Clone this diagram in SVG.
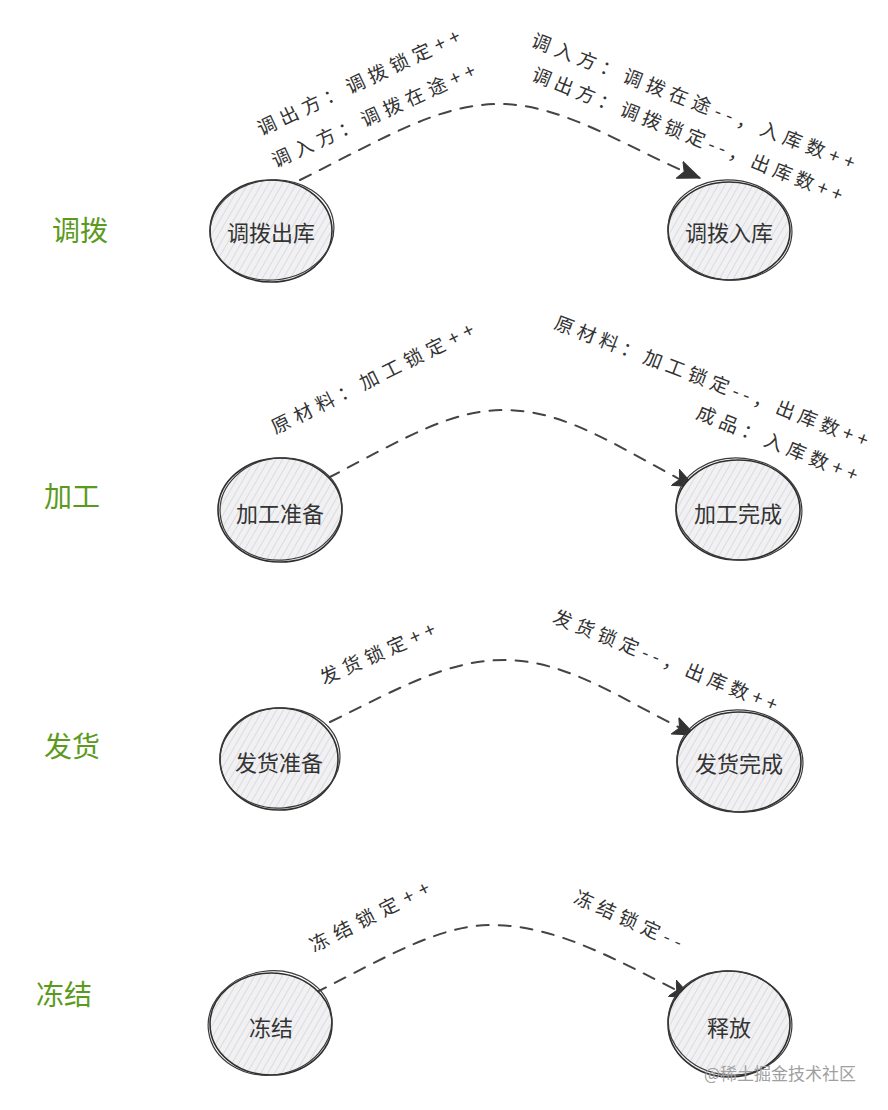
<svg xmlns="http://www.w3.org/2000/svg" width="888" height="1110" viewBox="0 0 888 1110">
<style>
.sec{font-family:"Noto Sans CJK SC","Noto Sans",sans-serif;font-size:28px;fill:#5b9a1c;text-anchor:middle;dominant-baseline:central}
.nt{font-family:"Noto Sans CJK SC","Noto Sans",sans-serif;font-size:22px;fill:#333;text-anchor:middle;dominant-baseline:central}
.lb{font-family:"Noto Sans CJK SC","Noto Sans",sans-serif;font-size:19px;fill:#333;text-anchor:middle;dominant-baseline:central}
.c1{fill:url(#hatch);stroke:#2e2e2e;stroke-width:1.6}
.c2{fill:none;stroke:#3a3a3a;stroke-width:1.2}
.edge{fill:none;stroke:#444;stroke-width:2;stroke-dasharray:12 10;stroke-linecap:round}
.wm{font-family:"Noto Sans CJK SC","Noto Sans",sans-serif;font-size:17px;fill:#a0a0a0;text-anchor:middle;dominant-baseline:central}
</style>
<defs>
<pattern id="hatch" patternUnits="userSpaceOnUse" width="6" height="6" patternTransform="rotate(30)">
<rect width="6" height="6" fill="#f1f1f3"/>
<line x1="0" y1="0" x2="0" y2="6" stroke="#d2d2d6" stroke-width="1.4"/>
</pattern>
<marker id="arr" markerUnits="userSpaceOnUse" markerWidth="26" markerHeight="22" refX="22" refY="11" orient="auto">
<path d="M0,2 L22,11 L0,20 L5,11 Z" fill="#333" stroke="#333" stroke-width="1"/>
</marker>
</defs>
<rect width="888" height="1110" fill="#fff"/>

<text class="sec" x="80" y="229">调拨</text>
<text class="sec" x="72" y="495">加工</text>
<text class="sec" x="72" y="745">发货</text>
<text class="sec" x="64" y="993">冻结</text>

<g id="connectors">
<path class="edge" d="M300,180 C390,135 440,104 500,104 C565,104 630,150 700,178" marker-end="url(#arr)"/>
<path class="edge" d="M328,478 C405,438 450,410 505,410 C570,410 630,455 695,487" marker-end="url(#arr)"/>
<path class="edge" d="M330,722 C405,685 450,660 505,660 C570,660 630,705 695,735" marker-end="url(#arr)"/>
<path class="edge" d="M315,993 C390,955 440,925 492,925 C560,925 625,965 692,998" marker-end="url(#arr)"/>
</g>

<g id="n-diaobo-out">
<ellipse class="c1" cx="271" cy="231" rx="61" ry="51"/>
<ellipse class="c2" cx="272" cy="230" rx="62" ry="50" transform="rotate(-6 272 230)"/>
<text class="nt" x="271" y="231">调拨出库</text>
</g>
<g id="n-diaobo-in">
<ellipse class="c1" cx="729" cy="231" rx="61" ry="49"/>
<ellipse class="c2" cx="730" cy="230" rx="62" ry="50" transform="rotate(5 730 230)"/>
<text class="nt" x="729" y="231">调拨入库</text>
</g>
<g id="n-jiagong-prep">
<ellipse class="c1" cx="280" cy="510" rx="62" ry="52"/>
<ellipse class="c2" cx="281" cy="509" rx="61" ry="51" transform="rotate(-5 281 509)"/>
<text class="nt" x="280" y="512">加工准备</text>
</g>
<g id="n-jiagong-done">
<ellipse class="c1" cx="738" cy="510" rx="62" ry="50"/>
<ellipse class="c2" cx="739" cy="509" rx="63" ry="51" transform="rotate(6 739 509)"/>
<text class="nt" x="738" y="512">加工完成</text>
</g>
<g id="n-fahuo-prep">
<ellipse class="c1" cx="279" cy="759" rx="59" ry="51"/>
<ellipse class="c2" cx="280" cy="758" rx="60" ry="50" transform="rotate(-5 280 758)"/>
<text class="nt" x="279" y="761">发货准备</text>
</g>
<g id="n-fahuo-done">
<ellipse class="c1" cx="739" cy="762" rx="62" ry="50"/>
<ellipse class="c2" cx="740" cy="761" rx="63" ry="51" transform="rotate(5 740 761)"/>
<text class="nt" x="739" y="762">发货完成</text>
</g>
<g id="n-dongjie">
<ellipse class="c1" cx="271" cy="1024" rx="61" ry="51"/>
<ellipse class="c2" cx="270" cy="1023" rx="62" ry="52" transform="rotate(-8 270 1023)"/>
<text class="nt" x="271" y="1026">冻结</text>
</g>
<g id="n-shifang">
<ellipse class="c1" cx="729" cy="1024" rx="61" ry="53"/>
<ellipse class="c2" cx="730" cy="1023" rx="62" ry="52" transform="rotate(7 730 1023)"/>
<text class="nt" x="729" y="1026">释放</text>
</g>

<g id="labels">
<text class="lb" transform="translate(358,81) rotate(-25.3)" textLength="222" lengthAdjust="spacing">调出方：调拨锁定++</text>
<text class="lb" transform="translate(373,114) rotate(-24.6)" textLength="222" lengthAdjust="spacing">调入方：调拨在途++</text>
<text class="lb" transform="translate(694,100) rotate(21.1)" textLength="345" lengthAdjust="spacing">调入方：调拨在途--，入库数++</text>
<text class="lb" transform="translate(688,133) rotate(21.6)" textLength="332" lengthAdjust="spacing">调出方：调拨锁定--，出库数++</text>

<text class="lb" transform="translate(372,377) rotate(-26.5)" textLength="224" lengthAdjust="spacing">原材料：加工锁定++</text>
<text class="lb" transform="translate(712,380) rotate(20.9)" textLength="334" lengthAdjust="spacing">原材料：加工锁定--，出库数++</text>
<text class="lb" transform="translate(778,442) rotate(22)" textLength="172" lengthAdjust="spacing">成品：入库数++</text>

<text class="lb" transform="translate(377,652) rotate(-24)" textLength="124" lengthAdjust="spacing">发货锁定++</text>
<text class="lb" transform="translate(666,659) rotate(22)" textLength="240" lengthAdjust="spacing">发货锁定--，出库数++</text>

<text class="lb" transform="translate(369,915) rotate(-27)" textLength="132" lengthAdjust="spacing">冻结锁定++</text>
<text class="lb" transform="translate(629,918) rotate(24)" textLength="116" lengthAdjust="spacing">冻结锁定--</text>
</g>

<text class="wm" x="780" y="1072">@稀土掘金技术社区</text>
</svg>
